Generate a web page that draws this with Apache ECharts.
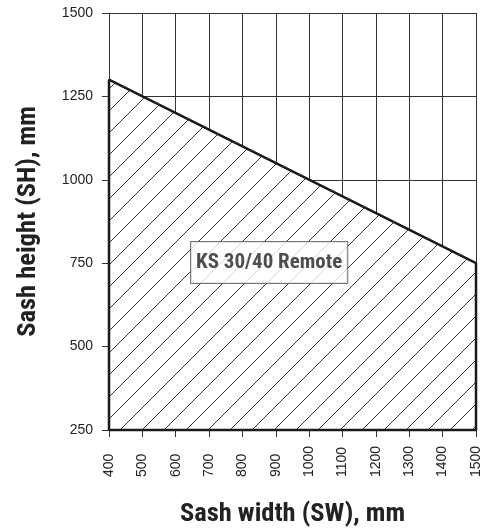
<!DOCTYPE html>
<html>
<head>
<meta charset="utf-8">
<script src="https://cdn.jsdelivr.net/npm/echarts@6/dist/echarts.min.js"></script>
<style>
  html, body { margin: 0; padding: 0; background: #fff; }
  #chart { width: 493px; height: 529px; }
</style>
</head>
<body>
<div id="chart"></div>
<script>
// ---- data ----
const xTicks = [400, 500, 600, 700, 800, 900, 1000, 1100, 1200, 1300, 1400, 1500];
const yTicks = [250, 500, 750, 1000, 1250, 1500];
const limitWidth = [400, 1500];     // sash width, mm
const limitHeight = [1300, 750];    // max sash height, mm
const minHeight = 250;
const areaLabel = 'KS 30/40 Remote';
const labelPos = [880, 752];

// ---- hatch pattern ----
function makeHatch() {
  const s = 22;
  const c = document.createElement('canvas');
  c.width = s; c.height = s;
  const g = c.getContext('2d');
  g.fillStyle = '#fff';
  g.fillRect(0, 0, s, s);
  g.strokeStyle = '#333';
  g.lineWidth = 1;
  g.beginPath();
  g.moveTo(-2, s + 2); g.lineTo(s + 2, -2);
  g.moveTo(-2, 2); g.lineTo(2, -2);
  g.moveTo(s - 2, s + 2); g.lineTo(s + 2, s - 2);
  g.stroke();
  return c;
}

const FONT = "'Liberation Sans', Arial, sans-serif";
const NARROW = "'Liberation Sans Narrow', 'Roboto Condensed', 'DejaVu Sans Condensed', 'Liberation Sans', sans-serif";

const limitData = limitWidth.map((w, i) => [w, limitHeight[i]]);
const outline = [[limitWidth[0], minHeight]]
  .concat(limitData)
  .concat([[limitWidth[limitWidth.length - 1], minHeight], [limitWidth[0], minHeight]]);

const chart = echarts.init(document.getElementById('chart'));
chart.setOption({
  animation: false,
  backgroundColor: '#fff',
  grid: { left: 109, right: 17, top: 13, bottom: 99, containLabel: false, outerBoundsMode: 'none' },
  xAxis: {
    type: 'value',
    min: xTicks[0], max: xTicks[xTicks.length - 1], interval: 100,
    name: 'Sash width (SW), mm',
    nameLocation: 'middle', nameGap: 71,
    nameTextStyle: { fontFamily: NARROW, fontSize: 26.5, fontWeight: 'bold', color: '#222' },
    axisLine: { show: true, lineStyle: { color: '#333', width: 1 } },
    axisTick: { show: true, length: 7, lineStyle: { color: '#333' } },
    axisLabel: {
      rotate: 90, align: 'left', verticalAlign: 'middle', margin: 47,
      fontFamily: FONT, fontSize: 14, color: '#222',
      formatter: v => String(v)
    },
    splitLine: { show: true, lineStyle: { color: '#333', width: 1 } }
  },
  yAxis: {
    type: 'value',
    min: yTicks[0], max: yTicks[yTicks.length - 1], interval: 250,
    name: 'Sash height (SH), mm',
    nameLocation: 'middle', nameGap: 67,
    nameTextStyle: { fontFamily: NARROW, fontSize: 26.5, fontWeight: 'bold', color: '#222' },
    axisLine: { show: true, lineStyle: { color: '#333', width: 1 } },
    axisTick: { show: true, length: 7, lineStyle: { color: '#333' } },
    axisLabel: { margin: 16, fontFamily: FONT, fontSize: 14, color: '#222', formatter: v => String(v) },
    splitLine: { show: true, lineStyle: { color: '#333', width: 1 } }
  },
  series: [
    {
      type: 'line',
      data: limitData,
      showSymbol: false,
      lineStyle: { width: 0, opacity: 0 },
      areaStyle: { origin: 'start', opacity: 1, color: { image: makeHatch(), repeat: 'repeat' } },
      z: 2
    },
    {
      type: 'line',
      data: outline,
      showSymbol: false,
      clip: false,
      lineStyle: { color: '#1a1a1a', width: 2.5 },
      z: 3
    },
    {
      type: 'scatter',
      data: [labelPos],
      symbolSize: 0,
      z: 5,
      label: {
        show: true, position: 'inside',
        formatter: areaLabel,
        fontFamily: NARROW, fontSize: 21, fontWeight: 'bold', color: '#222',
        backgroundColor: '#fff', borderColor: '#555', borderWidth: 1,
        padding: [11, 5, 9, 5]
      }
    }
  ]
});
</script>
</body>
</html>
